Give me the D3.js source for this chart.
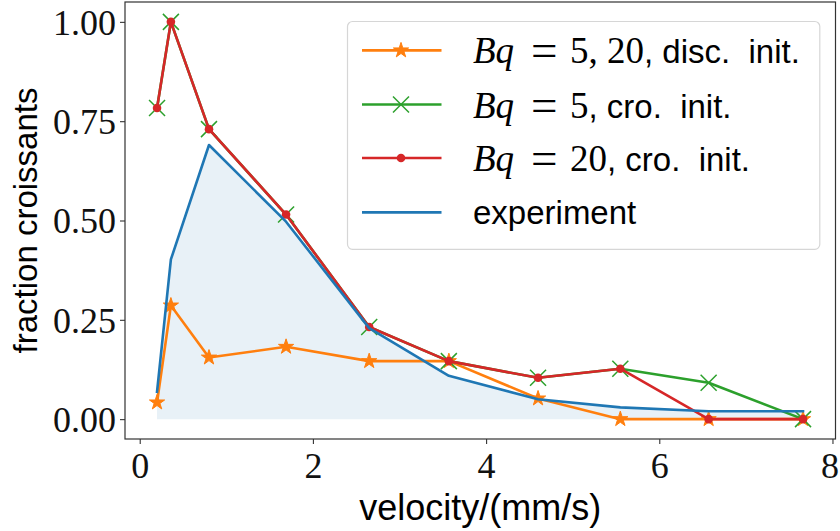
<!DOCTYPE html>
<html>
<head>
<meta charset="utf-8">
<script src="https://cdn.jsdelivr.net/npm/d3@7"></script>
<style>
  html, body { margin: 0; padding: 0; background: #fff; }
  svg { display: block; }
</style>
</head>
<body>
<svg id="chart" width="840" height="531"></svg>
<script>
// Fraction of croissants versus velocity: simulations and experiment
const velocity    = [0.2, 0.36, 0.8, 1.69, 2.65, 3.57, 4.6, 5.55, 6.57, 7.66];
const discInit    = [0.042, 0.286, 0.155, 0.182, 0.146, 0.146, 0.052, 0.0, 0.0, 0.0];
const croInitBq5  = [0.783, 1.0, 0.730, 0.515, 0.232, 0.146, 0.104, 0.127, 0.0915, 0.0];
const croInitBq20 = [0.783, 1.0, 0.730, 0.515, 0.232, 0.146, 0.104, 0.127, 0.0, 0.0];
const experiment  = [0.069, 0.402, 0.690, 0.497, 0.229, 0.109, 0.050, 0.0295, 0.020, 0.020];
const xTicks = [0, 2, 4, 6, 8];
const yTicks = [0, 0.25, 0.5, 0.75, 1.0];

const C = { orange: "#ff7f0e", green: "#2ca02c", red: "#d62728", blue: "#1f77b4" };
const serif = "'Liberation Serif', 'DejaVu Serif', serif";
const sans = "'Liberation Sans', Arial, sans-serif";

const svg = d3.select("#chart");
const L = 125, R = 835.5, T = 2, B = 439;

const x = d3.scaleLinear().domain([-0.17, 8.035]).range([L, R]);
const y = d3.scaleLinear().domain([-0.05, 1.05]).range([B, T]);

const pts = vals => velocity.map((v, i) => [v, vals[i]]);
const line = d3.line().x(d => x(d[0])).y(d => y(d[1]));
const area = d3.area().x(d => x(d[0])).y0(y(0)).y1(d => y(d[1]));

const plot = svg.append("g");

// shaded area under the experimental curve
plot.append("path").attr("d", area(pts(experiment)))
  .attr("fill", C.blue).attr("fill-opacity", 0.1);

// marker helpers
const starPath = d3.symbol().type(d3.symbolStar).size(64 / 0.8908130915292852)();
function drawStar(g, cx, cy) {
  g.append("path").attr("d", starPath).attr("transform", `translate(${cx},${cy})`)
    .attr("fill", C.orange).attr("stroke", C.orange).attr("stroke-width", 1)
    .attr("stroke-linejoin", "miter");
}
function drawCross(g, cx, cy) {
  const h = 8;
  g.append("path").attr("d", `M${cx - h},${cy - h}L${cx + h},${cy + h}M${cx - h},${cy + h}L${cx + h},${cy - h}`)
    .attr("stroke", C.green).attr("stroke-width", 1.5).attr("fill", "none");
}
function drawDot(g, cx, cy) {
  g.append("circle").attr("cx", cx).attr("cy", cy).attr("r", 4.3).attr("fill", C.red);
}

function series(vals, color, marker) {
  const g = plot.append("g");
  g.append("path").attr("d", line(pts(vals))).attr("fill", "none")
    .attr("stroke", color).attr("stroke-width", 2.6).attr("stroke-linejoin", "round")
    .attr("stroke-linecap", "square");
  if (marker) pts(vals).forEach(d => marker(g, x(d[0]), y(d[1])));
}

series(discInit, C.orange, drawStar);
series(croInitBq5, C.green, drawCross);
series(croInitBq20, C.red, drawDot);
series(experiment, C.blue, null);

// axes
const xAxis = svg.append("g").attr("transform", `translate(0,${B})`)
  .call(d3.axisBottom(x).tickValues(xTicks).tickFormat(d3.format("d")).tickSize(5).tickPadding(8));
const yAxis = svg.append("g").attr("transform", `translate(${L},0)`)
  .call(d3.axisLeft(y).tickValues(yTicks).tickFormat(d3.format(".2f")).tickSize(5).tickPadding(4));
[xAxis, yAxis].forEach(a => {
  a.select(".domain").remove();
  a.selectAll(".tick line").attr("stroke", "#333").attr("stroke-width", 1.1);
  a.selectAll(".tick text").attr("font-family", serif).attr("font-size", 36).attr("fill", "#111");
});
xAxis.selectAll(".tick text").attr("dy", "0.71em")
  .attr("x", d => d === 8 ? -3 : 0);
yAxis.selectAll(".tick text").attr("dy", "0.34em");

// frame
svg.append("rect").attr("x", L).attr("y", T).attr("width", R - L).attr("height", B - T)
  .attr("fill", "none").attr("stroke", "#333").attr("stroke-width", 1.2);

// axis labels
svg.append("text").attr("x", (L + R) / 2).attr("y", 520).attr("text-anchor", "middle")
  .attr("font-family", sans).attr("font-size", 36).text("velocity/(mm/s)");
svg.append("text").attr("transform", `translate(37,${(T + B) / 2}) rotate(-90)`)
  .attr("text-anchor", "middle").attr("font-family", sans).attr("font-size", 33)
  .text("fraction croissants");

// legend
const lg = svg.append("g");
lg.append("rect").attr("x", 347.5).attr("y", 21.5).attr("width", 472.3).attr("height", 227.8)
  .attr("rx", 5).attr("fill", "#fff").attr("fill-opacity", 0.8)
  .attr("stroke", "#d6d6d6").attr("stroke-width", 1.2);

const rows = [
  { color: C.orange, marker: drawStar, math: "5, 20", text: ", disc.\u00a0\u00a0init." },
  { color: C.green, marker: drawCross, math: "5", text: ", cro.\u00a0\u00a0init." },
  { color: C.red, marker: drawDot, math: "20", text: ", cro.\u00a0\u00a0init." },
  { color: C.blue, marker: null, math: null, text: "experiment" }
];
const rowY = [50.4, 104.5, 158, 212.4];
rows.forEach((r, i) => {
  const cy = rowY[i];
  lg.append("line").attr("x1", 362).attr("x2", 441.5).attr("y1", cy).attr("y2", cy)
    .attr("stroke", r.color).attr("stroke-width", 2.6);
  if (r.marker) r.marker(lg, 401, cy);
  const t = lg.append("text").attr("x", 473).attr("y", cy + 13).attr("font-size", 37);
  if (r.math) {
    t.append("tspan").attr("font-family", serif).attr("font-style", "italic").text("Bq");
    t.append("tspan").attr("font-family", serif).attr("font-size", 47).attr("x", 531).attr("dy", 3).text("=");
    t.append("tspan").attr("font-family", serif).attr("x", 570).attr("dy", -3).text(r.math);
    t.append("tspan").attr("font-family", sans).attr("font-size", 33).text(r.text);
  } else {
    t.attr("font-family", sans).attr("font-size", 33).attr("y", cy + 12).text(r.text);
  }
});
</script>
</body>
</html>
